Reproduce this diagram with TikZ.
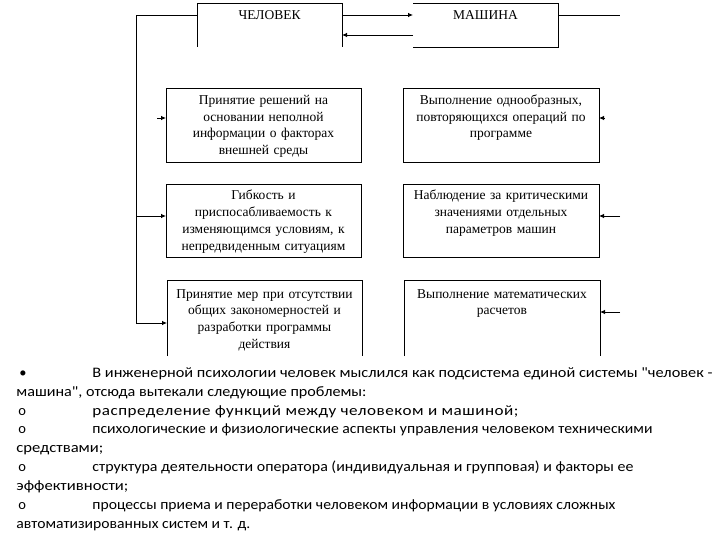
\documentclass[tikz,border=0pt]{standalone}
\usepackage{fontspec}
\setmainfont{Liberation Serif}
\newfontfamily\carlito{Carlito}
\usetikzlibrary{arrows.meta}
\newcommand\fitw[2]{\resizebox{#1pt}{\height}{#2}}
\begin{document}
\begin{tikzpicture}[x=1pt,y=-1pt, line width=0.8pt,
  fr/.style={inner sep=0pt, outer sep=0pt},
  tx/.style={inner sep=0pt, font=\fontsize{13.5}{16.7}\selectfont, align=center, anchor=base},
  bt/.style={inner sep=0pt, font=\carlito\fontsize{14.5}{18}\selectfont, anchor=base west},
  arr/.style={-{Latex[length=5pt,width=4.5pt]}}]
\useasboundingbox (0,0) rectangle (720,540);
% frames
\node[fr, minimum width=145pt, minimum height=44pt] (C) at (269.5,25) {};
\node[fr, minimum width=145pt, minimum height=44pt] (M) at (485.5,25) {};
\node[fr, draw, minimum width=195pt, minimum height=74pt] (L1) at (263.5,125) {};
\node[fr, draw, minimum width=195pt, minimum height=73pt] (L2) at (263.5,220.5) {};
\node[fr, minimum width=195pt, minimum height=76pt] (L3) at (264.5,318) {};
\node[fr, draw, minimum width=196pt, minimum height=74pt] (R1) at (501,125) {};
\node[fr, draw, minimum width=196pt, minimum height=73pt] (R2) at (501,220.5) {};
\node[fr, minimum width=196pt, minimum height=76pt] (R3) at (502,318) {};
\draw (C.south west) -- (C.north west) -- (C.north east) -- (C.south east);
\draw (M.north west) -- (M.north east) -- (M.south east) -- (M.south west);
\draw (L3.south west) -- (L3.north west) -- (L3.north east) -- (L3.south east);
\draw (R3.south west) -- (R3.north west) -- (R3.north east) -- (R3.south east);
% texts
\node[tx] (tC) at (C.north |- 0,19.5) {ЧЕЛОВЕК};
\node[tx] (tM) at (M.north |- 0,19.5) {МАШИНА};
\node[tx, text width=190pt] (tL1) at (L1.north |- 0,104.5) {Принятие решений на\\основании неполной\\информации о факторах\\внешней среды};
\node[tx, text width=190pt] (tL2) at (L2.north |- 0,200) {Гибкость и\\приспосабливаемость к\\изменяющимся условиям, к\\непредвиденным ситуациям};
\node[tx, text width=190pt] (tL3) at (L3.north |- 0,298) {Принятие мер при отсутствии\\общих закономерностей и\\разработки программы\\действия};
\node[tx, text width=190pt] (tR1) at (R1.north |- 0,104.5) {Выполнение однообразных,\\повторяющихся операций по\\программе};
\node[tx, text width=190pt] (tR2) at (R2.north |- 0,200) {Наблюдение за критическими\\значениями отдельных\\параметров машин};
\node[tx, text width=190pt] (tR3) at (R3.north |- 0,298) {Выполнение математических\\расчетов};
% connectors
\draw[arr] ([yshift=10pt]C.east) -- ([yshift=10pt]M.west);
\draw[arr] ([yshift=-10pt]M.west) -- ([yshift=-10pt]C.east);
\coordinate (lt) at (136,15);
\coordinate (lb) at (136,323);
\coordinate (l2) at (136,216);
\coordinate (l1) at (157,118);
\draw ([yshift=10pt]C.west) -- (lt) -- (lb);
\draw[arr] (lb) -- (lb -| L3.west);
\draw[arr] (l2) -- (l2 -| L2.west);
\draw[arr] (l1) -- (l1 -| L1.west);
\coordinate (rt) at (620,15);
\coordinate (r1) at (605,118);
\coordinate (r2) at (620,216);
\coordinate (r3) at (620,312);
\draw ([yshift=10pt]M.east) -- (rt);
\draw[arr] (r1) -- (r1 -| R1.east);
\draw[arr] (r2) -- (r2 -| R2.east);
\draw[arr] (r3) -- (r3 -| R3.east);
% bottom text
\node[bt] (b1) at (19,377) {•};
\node[bt] (t1) at (92,377) {\fitw{620}{В инженерной психологии человек мыслился как подсистема единой системы "человек -}};
\node[bt] (t2) at (16,396) {\fitw{350}{машина", отсюда вытекали следующие проблемы:}};
\node[bt] (b3) at (18,415) {о};
\node[bt] (t3) at (92,415) {\fitw{426}{\addfontfeature{LetterSpace=3}распределение функций между человеком и машиной;}};
\node[bt] (b4) at (18,433.5) {о};
\node[bt] (t4) at (92,433.5) {\fitw{560}{психологические и физиологические аспекты управления человеком техническими}};
\node[bt] (t5) at (16,452.5) {\fitw{87}{средствами;}};
\node[bt] (b6) at (18,471.5) {о};
\node[bt] (t6) at (92,471.5) {\fitw{541}{структура деятельности оператора (индивидуальная и групповая) и факторы ее}};
\node[bt] (t7) at (16,490.5) {\fitw{112}{эффективности;}};
\node[bt] (b8) at (18,509.5) {о};
\node[bt] (t8) at (92,509.5) {\fitw{523}{процессы приема и переработки человеком информации в условиях сложных}};
\node[bt] (t9) at (16,528) {\fitw{234}{автоматизированных систем и т. д.}};
\end{tikzpicture}
\end{document}
